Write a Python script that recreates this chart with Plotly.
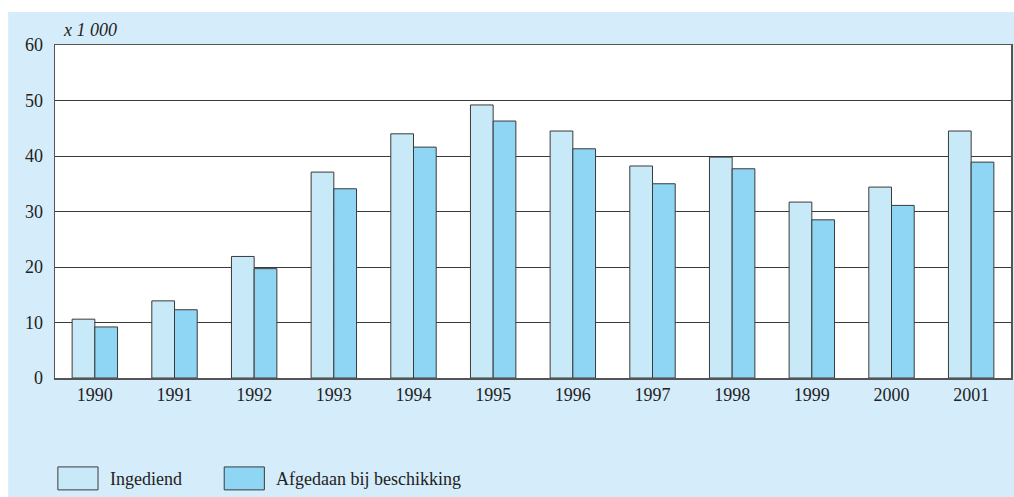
import plotly.graph_objects as go

years = ["1990", "1991", "1992", "1993", "1994", "1995", "1996", "1997", "1998", "1999", "2000", "2001"]
ingediend = [10.6, 13.9, 21.9, 37.1, 44.0, 49.2, 44.5, 38.2, 39.8, 31.7, 34.4, 44.5]
afgedaan = [9.2, 12.3, 19.7, 34.1, 41.6, 46.3, 41.3, 35.0, 37.7, 28.5, 31.1, 38.9]
series_names = ["Ingediend", "Afgedaan bij beschikking"]
series_colors = ["#c8e9f8", "#8ed6f4"]
y_ticks = [0, 10, 20, 30, 40, 50, 60]

FONT = "Liberation Serif"
BG = "#d5edfa"
LINE = "#3a3a3a"
FS = 18

fig = go.Figure()
for name, vals, col in zip(series_names, [ingediend, afgedaan], series_colors):
    fig.add_trace(go.Bar(x=years, y=vals, name=name, marker_color=col,
                         marker_line_color=LINE, marker_line_width=1, showlegend=False,
                         hoverinfo="skip"))

shapes = [
    dict(type="rect", xref="paper", yref="paper", x0=-0.049, x1=1.01, y0=-0.4, y1=1.099,
         fillcolor=BG, line_width=0, layer="below"),
    dict(type="rect", xref="paper", yref="paper", x0=0, x1=1, y0=0, y1=1,
         fillcolor="white", line_width=0, layer="below"),
]
annotations = [
    dict(text="<i>x 1 000</i>", xref="paper", yref="paper", x=0.006, y=1.0, xanchor="left",
         yanchor="bottom", yshift=3, showarrow=False, font=dict(family=FONT, size=FS, color="#222")),
]
leg_x = [(0.003, 0.045, 0.055), (0.177, 0.219, 0.229)]
for (x0, x1, xt), name, col in zip(leg_x, series_names, series_colors):
    shapes.append(dict(type="rect", xref="paper", yref="paper", x0=x0, x1=x1, y0=-0.336, y1=-0.267,
                       fillcolor=col, line=dict(color=LINE, width=1)))
    annotations.append(dict(text=name, xref="paper", yref="paper", x=xt, y=-0.302, xanchor="left",
                            yanchor="middle", showarrow=False,
                            font=dict(family=FONT, size=FS, color="#222")))

fig.update_layout(
    width=1014, height=497,
    margin=dict(l=55, r=1, t=45, b=119),
    paper_bgcolor="white", plot_bgcolor="white",
    barmode="group", bargap=0.43, bargroupgap=0,
    font=dict(family=FONT, size=FS, color="#222"),
    shapes=shapes, annotations=annotations,
    xaxis=dict(showgrid=False, showline=True, linecolor="#555", linewidth=1.5, mirror=True,
               ticks="", tickfont=dict(size=FS)),
    yaxis=dict(range=[0, 60], tickvals=y_ticks, showgrid=True, gridcolor=LINE, gridwidth=1,
               showline=True, linecolor="#555", linewidth=1.5, mirror=True, ticks="",
               zeroline=False, tickfont=dict(size=FS), ticklabelstandoff=7),
)
fig.write_html("out.html", config={"displayModeBar": False, "staticPlot": True},
               post_script="document.body.style.margin='0';document.body.style.overflow='hidden';")
